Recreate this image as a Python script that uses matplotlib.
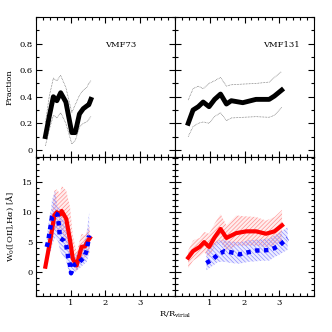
import matplotlib
matplotlib.use("Agg")
from matplotlib import pyplot as plt
from matplotlib.ticker import MultipleLocator, FixedLocator
import numpy as np

plt.rcParams['font.family'] = 'DejaVu Serif'
plt.rcParams['mathtext.fontset'] = 'dejavuserif'
plt.rcParams['hatch.linewidth'] = 0.5

# ---- VMF73: fraction ----
f73_x = [0.27, 0.38, 0.50, 0.60, 0.71, 0.86, 1.03, 1.13, 1.25, 1.36, 1.46, 1.52, 1.58]
f73_y = [0.10, 0.25, 0.40, 0.37, 0.43, 0.36, 0.13, 0.13, 0.27, 0.31, 0.33, 0.34, 0.38]
f73_hi = [0.20, 0.40, 0.54, 0.52, 0.56, 0.47, 0.28, 0.34, 0.41, 0.45, 0.47, 0.50, 0.52]
f73_lo = [0.03, 0.15, 0.26, 0.24, 0.28, 0.20, 0.045, 0.07, 0.17, 0.20, 0.21, 0.23, 0.25]

# ---- VMF131: fraction ----
f131_x = [0.38, 0.52, 0.67, 0.81, 0.98, 1.14, 1.31, 1.48, 1.62, 1.95, 2.33, 2.71, 2.86, 3.07]
f131_y = [0.20, 0.30, 0.325, 0.36, 0.325, 0.38, 0.42, 0.345, 0.37, 0.355, 0.38, 0.38, 0.405, 0.45]
f131_hi = [0.375, 0.46, 0.48, 0.46, 0.50, 0.52, 0.545, 0.48, 0.49, 0.495, 0.50, 0.51, 0.545, 0.59]
f131_lo = [0.10, 0.175, 0.20, 0.21, 0.20, 0.25, 0.28, 0.22, 0.24, 0.245, 0.25, 0.245, 0.26, 0.32]

# ---- VMF73: equivalent widths ----
r73_x = [0.27, 0.41, 0.53, 0.60, 0.69, 0.74, 0.87, 0.98, 1.06, 1.17, 1.31, 1.41, 1.47, 1.55]
r73_y = [0.9, 5.3, 9.5, 10.0, 9.6, 10.2, 8.9, 5.3, 2.2, 1.1, 4.2, 4.3, 5.0, 5.7]
r73_hi = [1.9, 7.2, 13.6, 13.8, 13.1, 14.4, 13.6, 10.8, 6.1, 3.3, 6.4, 6.1, 7.0, 7.5]
r73_lo = [0.2, 3.6, 7.0, 6.9, 6.7, 6.7, 4.7, 2.5, 1.2, 0.0, 2.2, 2.5, 2.9, 3.3]

b73_x = [0.31, 0.36, 0.39, 0.43, 0.46, 0.55, 0.62, 0.65, 0.67, 0.69, 0.79, 0.87,
         0.89, 0.93, 0.98, 1.01, 1.07, 1.25, 1.38, 1.46, 1.50, 1.53]
b73_y = [4.2, 5.4, 6.7, 8.0, 9.2, 9.8, 9.6, 8.3, 7.1, 5.7, 5.3, 4.6,
         3.7, 2.4, 1.1, -0.2, 1.1, 1.7, 2.4, 3.6, 5.0, 6.1]
b73_hi = [5.7, 8.0, 9.5, 10.3, 12.0, 13.6, 10.8, 10.7, 10.6, 10.6, 8.6, 8.0,
          6.5, 5.5, 4.2, 3.4, 2.5, 3.6, 5.0, 6.4, 8.5, 10.0]
b73_lo = [2.5, 3.0, 3.3, 3.6, 4.5, 5.8, 5.3, 4.8, 4.2, 3.6, 2.5, 2.0,
          1.2, 0.5, 0.0, -0.6, -0.2, 0.6, 1.3, 1.7, 2.5, 3.6]

# ---- VMF131: equivalent widths ----
r131_x = [0.38, 0.52, 0.71, 0.84, 0.98, 1.14, 1.31, 1.48, 1.76, 2.05, 2.33, 2.62, 2.86, 3.08]
r131_y = [2.4, 3.5, 4.2, 5.0, 4.2, 5.8, 7.2, 5.7, 6.5, 6.8, 6.8, 6.4, 6.8, 7.8]
r131_hi = [3.6, 5.3, 5.7, 6.7, 6.4, 8.1, 9.7, 7.8, 9.45, 9.3, 9.2, 8.6, 9.2, 10.4]
r131_lo = [0.6, 1.9, 2.6, 3.3, 2.5, 4.2, 5.0, 3.6, 4.4, 4.4, 4.4, 4.2, 4.4, 5.3]

b131_x = [0.90, 1.10, 1.24, 1.43, 1.62, 1.86, 2.10, 2.33, 2.52, 2.71, 2.86, 3.00, 3.11, 3.24]
b131_y = [1.5, 2.2, 2.95, 3.5, 3.3, 2.95, 3.3, 3.6, 3.6, 3.7, 4.0, 4.4, 5.0, 5.6]
b131_hi = [3.6, 4.7, 5.3, 5.3, 5.1, 5.0, 5.3, 5.4, 5.5, 5.6, 6.1, 6.6, 7.0, 7.5]
b131_lo = [0.3, 1.1, 1.7, 1.7, 1.5, 1.4, 1.7, 1.8, 1.9, 1.9, 2.5, 2.9, 3.3, 3.7]

fig = plt.figure(figsize=(3.32, 3.32), dpi=100)
L, W = 0.1084, 0.4187
B, H = 0.1084, 0.4202
ax_tl = fig.add_axes([L, B + H, W, H])
ax_tr = fig.add_axes([L + W, B + H, W, H])
ax_bl = fig.add_axes([L, B, W, H])
ax_br = fig.add_axes([L + W, B, W, H])

red = '#ff0000'
blue = '#0000ff'


def style(ax, top):
    ax.set_xlim(0, 4)
    ax.xaxis.set_major_locator(FixedLocator([1, 2, 3]))
    ax.xaxis.set_minor_locator(MultipleLocator(0.2))
    if top:
        ax.set_ylim(-0.05, 1.0)
        ax.yaxis.set_major_locator(FixedLocator([0, 0.2, 0.4, 0.6, 0.8]))
        ax.yaxis.set_minor_locator(MultipleLocator(0.1))
    else:
        ax.set_ylim(-4, 19.3)
        ax.yaxis.set_major_locator(FixedLocator([0, 5, 10, 15]))
        ax.yaxis.set_minor_locator(MultipleLocator(1))
    ax.tick_params(which='both', direction='in', top=True, right=True,
                   width=0.8, labelsize=6, pad=2.5)
    ax.tick_params(which='major', length=4)
    ax.tick_params(which='minor', length=2)
    for s in ax.spines.values():
        s.set_linewidth(0.8)


for ax, top in [(ax_tl, True), (ax_tr, True), (ax_bl, False), (ax_br, False)]:
    style(ax, top)

ax_tl.tick_params(labelbottom=False)
ax_tr.tick_params(labelbottom=False, labelleft=False)
ax_br.tick_params(labelleft=False)
ax_tl.set_yticklabels(['0', '0.2', '0.4', '0.6', '0.8'])

# fractions
env = dict(color='0.35', lw=0.5, ls=(0, (1, 1.2)))
ax_tl.plot(f73_x, f73_y, color='black', lw=3.5)
ax_tl.plot(f73_x, f73_hi, **env)
ax_tl.plot(f73_x, f73_lo, **env)
ax_tr.plot(f131_x, f131_y, color='black', lw=3.5)
ax_tr.plot(f131_x, f131_hi, **env)
ax_tr.plot(f131_x, f131_lo, **env)

ax_tl.text(2.45, 0.79, 'VMF73', fontsize=6, ha='center', va='center')
ax_tr.text(3.05, 0.79, 'VMF131', fontsize=6, ha='center', va='center')

# equivalent widths
for ax, rx, ry, rhi, rlo, bx, by, bhi, blo in [
        (ax_bl, r73_x, r73_y, r73_hi, r73_lo, b73_x, b73_y, b73_hi, b73_lo),
        (ax_br, r131_x, r131_y, r131_hi, r131_lo, b131_x, b131_y, b131_hi, b131_lo)]:
    ax.fill_between(rx, rlo, rhi, facecolor='#ff000012', edgecolor='#ff9090',
                    hatch='////////', linewidth=0)
    ax.fill_between(bx, blo, bhi, facecolor='#0000ff12', edgecolor='#9090ff',
                    hatch='\\\\\\\\\\\\\\\\', linewidth=0)
    ax.plot(rx, ry, color=red, lw=3.0)
    ax.plot(bx, by, color=blue, lw=3.2, ls=(0, (1, 1)))

ax_tl.set_ylabel('Fraction', fontsize=6, labelpad=4)
ax_bl.set_ylabel(r'W$_0$([OII],H$\alpha$) [$\rm\AA$]', fontsize=6, labelpad=4)
fig.text(0.527, 0.052, r'R/R$_{\rm virial}$', fontsize=6, ha='center', va='center')

fig.savefig('out.png', dpi=100)
